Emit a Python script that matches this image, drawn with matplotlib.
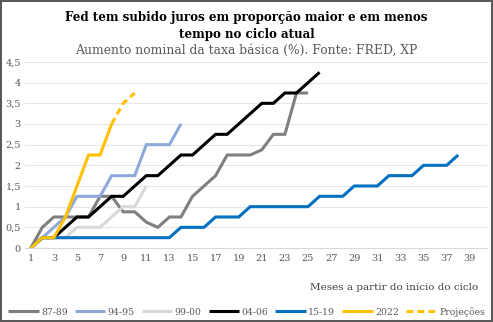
import matplotlib
matplotlib.use("Agg")
import matplotlib.pyplot as plt
import numpy as np

months = list(range(1, 41))
tick_months = list(range(1, 40, 2))
y_ticks = [0, 0.5, 1, 1.5, 2, 2.5, 3, 3.5, 4, 4.5]
y_tick_labels = ["0", "0,5", "1", "1,5", "2", "2,5", "3", "3,5", "4", "4,5"]

s_87_89 = [0, 0.5, 0.75, 0.75, 0.75, 0.75, 1.25, 1.25, 0.875, 0.875, 0.625, 0.5, 0.75, 0.75,
           1.25, 1.5, 1.75, 2.25, 2.25, 2.25, 2.375, 2.75, 2.75, 3.75, 3.75]
s_94_95 = [0, 0.25, 0.5, 0.75, 1.25, 1.25, 1.25, 1.75, 1.75, 1.75, 2.5, 2.5, 2.5, 3.0]
s_99_00 = [0, 0.25, 0.25, 0.25, 0.5, 0.5, 0.5, 0.75, 1.0, 1.0, 1.5]
s_04_06 = [0, 0.25, 0.25, 0.5, 0.75, 0.75, 1.0, 1.25, 1.25, 1.5, 1.75, 1.75, 2.0, 2.25, 2.25,
           2.5, 2.75, 2.75, 3.0, 3.25, 3.5, 3.5, 3.75, 3.75, 4.0, 4.25]
s_15_19 = [0, 0.25, 0.25, 0.25, 0.25, 0.25, 0.25, 0.25, 0.25, 0.25, 0.25, 0.25, 0.25, 0.5,
           0.5, 0.5, 0.75, 0.75, 0.75, 1.0, 1.0, 1.0, 1.0, 1.0, 1.0, 1.25, 1.25, 1.25, 1.5,
           1.5, 1.5, 1.75, 1.75, 1.75, 2.0, 2.0, 2.0, 2.25]
s_2022 = [0, 0.25, 0.25, 0.75, 1.5, 2.25, 2.25, 3.0]
proj_months = [8, 9, 10]
proj_2022 = [3.0, 3.5, 3.75]

series = [
    ("87-89", s_87_89, "#7f7f7f"),
    ("94-95", s_94_95, "#8eaadb"),
    ("99-00", s_99_00, "#d9d9d9"),
    ("04-06", s_04_06, "#000000"),
    ("15-19", s_15_19, "#0070c0"),
    ("2022", s_2022, "#ffc000"),
]

plt.rcParams['font.family'] = ['DejaVu Serif']

fig = plt.figure(figsize=(4.93, 3.22), dpi=100)
fig.patch.set_facecolor("white")
fig.patch.set_edgecolor("#595959")
fig.patch.set_linewidth(1.5)

ax = fig.add_axes([0.0507, 0.2298, 0.9373, 0.5777])

handles = []
for name, vals, col in series:
    h, = ax.plot(months[:len(vals)], vals, color=col, lw=2.2, label=name,
                 solid_joinstyle="miter", solid_capstyle="butt")
    handles.append(h)
hp, = ax.plot(proj_months, proj_2022, color="#ffc000", lw=2.2, ls=(0, (2.2, 1.4)),
              label="Projeções", dash_capstyle="butt")
handles.append(hp)

ax.set_xlim(0.5, 40.5)
ax.set_ylim(0, 4.5)
ax.set_xticks(tick_months)
ax.set_xticklabels([str(m) for m in tick_months])
ax.set_yticks(y_ticks)
ax.set_yticklabels(y_tick_labels)
ax.tick_params(axis="both", length=0, labelsize=7, colors="#595959", pad=4)
ax.tick_params(axis="y", pad=3)
ax.grid(axis="y", color="#e6e6e6", lw=0.8)
ax.set_axisbelow(True)
for sp in ["top", "right", "left"]:
    ax.spines[sp].set_visible(False)
ax.spines["bottom"].set_color("#d9d9d9")
ax.spines["bottom"].set_linewidth(0.8)

fig.text(0.5, 1 - 18 / 322, "Fed tem subido juros em proporção maior e em menos",
         ha="center", va="center", fontsize=8.6, fontweight="bold", color="#000000")
fig.text(0.5, 1 - 34.5 / 322, "tempo no ciclo atual",
         ha="center", va="center", fontsize=8.6, fontweight="bold", color="#000000")
fig.text(0.5, 1 - 50.5 / 322, "Aumento nominal da taxa básica (%). Fonte: FRED, XP",
         ha="center", va="center", fontsize=8.9, color="#595959")
fig.text(0.97, 0.108, "Meses a partir do início do ciclo", ha="right", va="center",
         fontsize=7.5, color="#404040")

fig.legend(handles=handles, loc="center", bbox_to_anchor=(0.5, 0.032), ncol=7,
           frameon=False, fontsize=6.7, handlelength=3.3, handletextpad=0.25,
           columnspacing=0.75, labelcolor="#595959", borderpad=0.2)

fig.savefig("out.png", dpi=100)
